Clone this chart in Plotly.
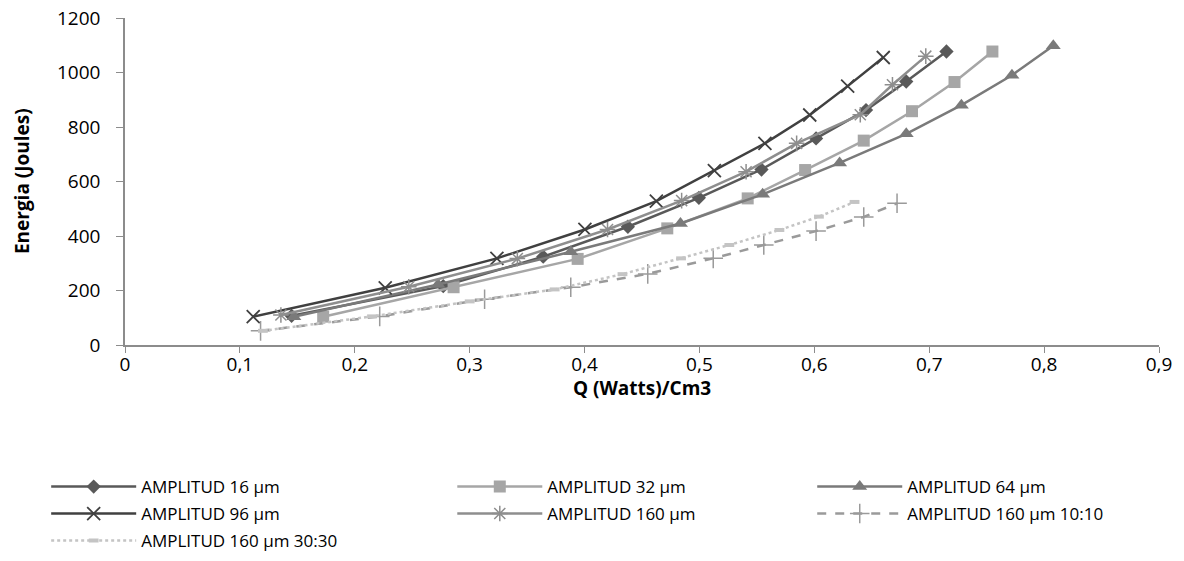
import plotly.graph_objects as go

# Data
q16 = [0.145, 0.277, 0.364, 0.4377, 0.4995, 0.554, 0.6015, 0.645, 0.68, 0.715]
e16 = [107, 216, 324, 434, 540, 644, 758, 862, 967, 1077]

q32 = [0.1725, 0.286, 0.394, 0.472, 0.542, 0.592, 0.643, 0.685, 0.722, 0.755]
e32 = [104, 212, 316, 428, 538, 642, 750, 858, 965, 1077]

q64 = [0.147, 0.2725, 0.388, 0.4835, 0.555, 0.622, 0.68, 0.728, 0.772, 0.808]
e64 = [104, 222, 342, 446, 553, 668, 775, 880, 990, 1098]

q96 = [0.1116, 0.2265, 0.3237, 0.4003, 0.4625, 0.513, 0.557, 0.596, 0.629, 0.66]
e96 = [104, 210, 318, 424, 528, 640, 740, 844, 950, 1055]

q160 = [0.1357, 0.247, 0.3415, 0.42, 0.4845, 0.5406, 0.5846, 0.64, 0.668, 0.697]
e160 = [110, 214, 317, 424, 530, 636, 740, 845, 955, 1060]

q160_10 = [0.118, 0.2217, 0.313, 0.388, 0.455, 0.512, 0.556, 0.6015, 0.643, 0.672]
e160_10 = [52, 105, 168, 212, 261, 318, 367, 418, 470, 520]

q160_30 = [0.12, 0.215, 0.30, 0.374, 0.433, 0.484, 0.526, 0.5696, 0.604, 0.635]
e160_30 = [52, 105, 160, 204, 260, 318, 367, 422, 471, 525]

names = ["AMPLITUD 16 µm", "AMPLITUD 32 µm", "AMPLITUD 64 µm",
         "AMPLITUD 96 µm", "AMPLITUD 160 µm", "AMPLITUD 160 µm 10:10",
         "AMPLITUD 160 µm 30:30"]

x_ticks = [0, 0.1, 0.2, 0.3, 0.4, 0.5, 0.6, 0.7, 0.8, 0.9]
x_tick_labels = ["0", "0,1", "0,2", "0,3", "0,4", "0,5", "0,6", "0,7", "0,8", "0,9"]
y_ticks = [0, 200, 400, 600, 800, 1000, 1200]

x_title = "<b>Q (Watts)/Cm3</b>"
y_title = "<b>Energia (Joules)</b>"

FONT = "'Open Sans', Lato, sans-serif"

styles = [
    dict(line=dict(color="#595959", width=2.5), marker=dict(symbol="diamond", size=11, color="#595959")),
    dict(line=dict(color="#a6a6a6", width=2.5), marker=dict(symbol="square", size=12, color="#a6a6a6")),
    dict(line=dict(color="#7a7a7a", width=2.5), marker=dict(symbol="triangle-up", size=13, color="#7a7a7a")),
    dict(line=dict(color="#404040", width=2.5), marker=dict(symbol="x-thin", size=13, color="#404040",
                                                            line=dict(color="#404040", width=1.8))),
    dict(line=dict(color="#8e8e8e", width=2.5), marker=dict(symbol="asterisk", size=13, color="#8e8e8e",
                                                            line=dict(color="#8e8e8e", width=1.5))),
    dict(line=dict(color="#9a9a9a", width=2.5, dash="dash"), marker=dict(symbol="cross-thin", size=14, color="#9a9a9a",
                                                                         line=dict(color="#9a9a9a", width=1.5))),
    dict(line=dict(color="#c4c4c4", width=2.5, dash="dot"), marker=dict(symbol="line-ew", size=7, color="#c4c4c4",
                                                                        line=dict(color="#c4c4c4", width=4))),
]

# one legend box per entry: 3 columns x 3 rows, filled row by row
legend_ids = ["legend", "legend2", "legend3", "legend4", "legend5", "legend6", "legend7"]
col_x = [0.039, 0.382, 0.686]
row_y = [1 - 487 / 561, 1 - 514 / 561, 1 - 541 / 561]

xs = [q16, q32, q64, q96, q160, q160_10, q160_30]
ys = [e16, e32, e64, e96, e160, e160_10, e160_30]

fig = go.Figure()
for x, y, n, s, lg in zip(xs, ys, names, styles, legend_ids):
    fig.add_trace(go.Scatter(x=x, y=y, name=n, mode="lines+markers",
                             line=s["line"], marker=s["marker"], legend=lg))

legends = {}
for i, lg in enumerate(legend_ids):
    legends[lg] = dict(orientation="v", xref="container", yref="container",
                       xanchor="left", yanchor="middle",
                       x=col_x[i % 3], y=row_y[i // 3],
                       font=dict(size=17, family=FONT), itemwidth=85,
                       tracegroupgap=0, bgcolor="rgba(0,0,0,0)")

fig.update_layout(
    width=1184, height=561,
    margin=dict(l=125, r=25, t=18, b=216, autoexpand=False),
    paper_bgcolor="white", plot_bgcolor="white",
    font=dict(family=FONT, color="#000000"),
    showlegend=True,
    xaxis=dict(range=[0, 0.9], tickvals=x_ticks, ticktext=x_tick_labels,
               showgrid=False, zeroline=False, showline=True, linecolor="#8c8c8c", linewidth=1.5,
               ticks="outside", ticklen=6, tickcolor="#8c8c8c", ticklabelstandoff=-5,
               tickfont=dict(size=19, family=FONT)),
    yaxis=dict(range=[0, 1200], tickvals=y_ticks,
               showgrid=False, zeroline=False, showline=True, linecolor="#8c8c8c", linewidth=1.5,
               ticks="outside", ticklen=7, tickcolor="#8c8c8c", ticklabelstandoff=12,
               tickfont=dict(size=19, family=FONT)),
    annotations=[
        dict(text=x_title, xref="paper", yref="paper", x=0.5, y=-0.13,
             xanchor="center", yanchor="middle", showarrow=False,
             font=dict(size=19, family=FONT)),
        dict(text=y_title, xref="paper", yref="paper", x=-0.10, y=0.5,
             xanchor="center", yanchor="middle", showarrow=False, textangle=-90,
             font=dict(size=19, family=FONT)),
    ],
    **legends,
)

fig.write_html("out.html")
